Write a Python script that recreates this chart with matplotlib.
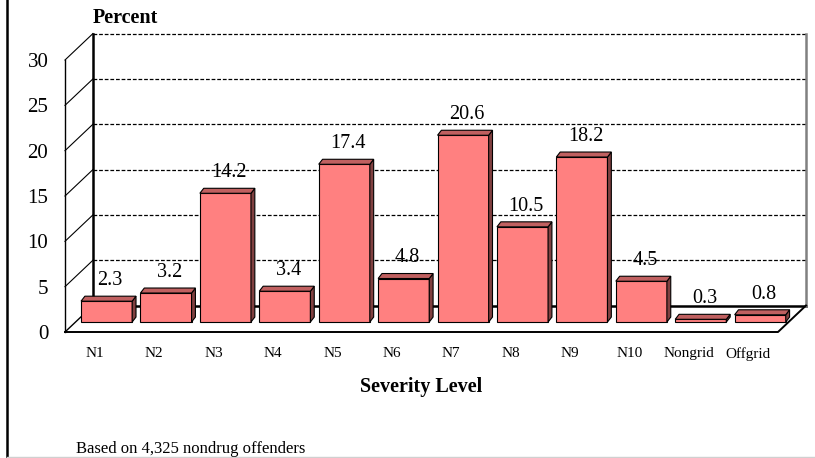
import matplotlib
matplotlib.use("Agg")
import matplotlib.pyplot as plt
from matplotlib.patches import Polygon
from matplotlib.lines import Line2D

categories = ["N1", "N2", "N3", "N4", "N5", "N6", "N7", "N8", "N9", "N10", "Nongrid", "Offgrid"]
values = [2.3, 3.2, 14.2, 3.4, 17.4, 4.8, 20.6, 10.5, 18.2, 4.5, 0.3, 0.8]
value_labels = ["2.3", "3.2", "14.2", "3.4", "17.4", "4.8", "20.6", "10.5", "18.2", "4.5", "0.3", "0.8"]
yticks = [0, 5, 10, 15, 20, 25, 30]
ytick_labels = ["0", "5", "10", "15", "20", "25", "30"]

W, H = 815, 458
plt.rcParams['font.family'] = ['Liberation Serif', 'DejaVu Serif']

fig = plt.figure(figsize=(W / 100, H / 100), dpi=100)
fig.patch.set_facecolor("white")

def fx(px):
    return px / W

def fy(py):
    return 1 - py / H

ax = fig.add_axes([fx(65), fy(332), 713 / W, 272 / H])
n = len(categories)
ax.set_xlim(-0.5, n - 0.5)
ax.set_ylim(0, 30)
ax.patch.set_alpha(0)
for s in ax.spines.values():
    s.set_visible(False)

# depth of the 3-D box (data units)
DX, DY = 0.471, 2.92
# bar placement inside the depth
BX0, BY0 = 0.20, 1.10
BDX, BDY = 0.065, 0.55
BW = 0.86

x0, x1 = -0.5, n - 0.5
ymax = yticks[-1]

# back wall gridlines (dashed)
for t in yticks[1:]:
    ax.add_line(Line2D([x0 + DX, x1 + DX], [t + DY, t + DY], color="black",
                       lw=0.9, ls=(0, (3, 1.5)), clip_on=False, zorder=1))
# side wall diagonals
for t in yticks[1:]:
    ax.add_line(Line2D([x0, x0 + DX], [t, t + DY], color="black", lw=0.8,
                       clip_on=False, zorder=1))
# back wall left edge, bottom edge
ax.add_line(Line2D([x0 + DX, x0 + DX], [DY, ymax + DY], color="black", lw=1.8,
                   clip_on=False, zorder=1))
ax.add_line(Line2D([x0 + DX, x1 + DX], [DY, DY], color="black", lw=1.8,
                   clip_on=False, zorder=1))
# back wall right edge (grey)
ax.add_line(Line2D([x1 + DX, x1 + DX], [DY, ymax + DY], color="#808080", lw=1.8,
                   clip_on=False, zorder=1))
# front vertical axis
ax.add_line(Line2D([x0, x0], [0, ymax], color="black", lw=1.0,
                   clip_on=False, zorder=1))
# floor
ax.add_line(Line2D([x0, x1, x1 + DX], [0, 0, DY], color="black", lw=1.4,
                   clip_on=False, zorder=1))
ax.add_line(Line2D([x0, x0 + DX], [0, DY], color="black", lw=1.0,
                   clip_on=False, zorder=1))

FRONT = "#FF8080"
TOP = "#C06060"
SIDE = "#804040"

for i, v in enumerate(values):
    l = i - BW / 2 + BX0
    r = i + BW / 2 + BX0
    b = BY0
    t = v + BY0
    front = Polygon([(l, b), (r, b), (r, t), (l, t)], closed=True,
                    facecolor=FRONT, edgecolor="black", lw=0.8, clip_on=False, zorder=3)
    top = Polygon([(l, t), (r, t), (r + BDX, t + BDY), (l + BDX, t + BDY)], closed=True,
                  facecolor=TOP, edgecolor="black", lw=0.8, clip_on=False, zorder=3)
    side = Polygon([(r, b), (r + BDX, b + BDY), (r + BDX, t + BDY), (r, t)], closed=True,
                   facecolor=SIDE, edgecolor="black", lw=0.8, clip_on=False, zorder=3)
    ax.add_patch(front)
    ax.add_patch(side)
    ax.add_patch(top)
    ax.annotate(value_labels[i], (i + BX0 + 0.06, t), xytext=(0, 8),
                textcoords="offset points", ha="center", va="bottom",
                fontsize=14.5, zorder=5, annotation_clip=False)

ax.set_yticks(yticks)
ax.set_yticklabels(ytick_labels, fontsize=15)
ax.set_xticks(range(n))
ax.set_xticklabels(categories, fontsize=11)
ax.tick_params(axis="y", length=0, pad=12)
ax.tick_params(axis="x", length=0, pad=11)

fig.text(fx(93), fy(23), "Percent", fontsize=14.5, fontweight="bold",
         ha="left", va="baseline")
fig.text(fx(421.5), fy(392), "Severity Level", fontsize=14.5, fontweight="bold",
         ha="center", va="baseline")
fig.text(fx(76), fy(453), "Based on 4,325 nondrug offenders", fontsize=12,
         ha="left", va="baseline")

# figure frame
fig.add_artist(Line2D([fx(7), fx(7)], [0, 1], transform=fig.transFigure,
                      color="black", lw=1.8))
fig.add_artist(Line2D([fx(7), 1], [fy(457), fy(457)], transform=fig.transFigure,
                      color="#D0D0D0", lw=1.0))

fig.savefig("out.png", dpi=100, facecolor="white")
